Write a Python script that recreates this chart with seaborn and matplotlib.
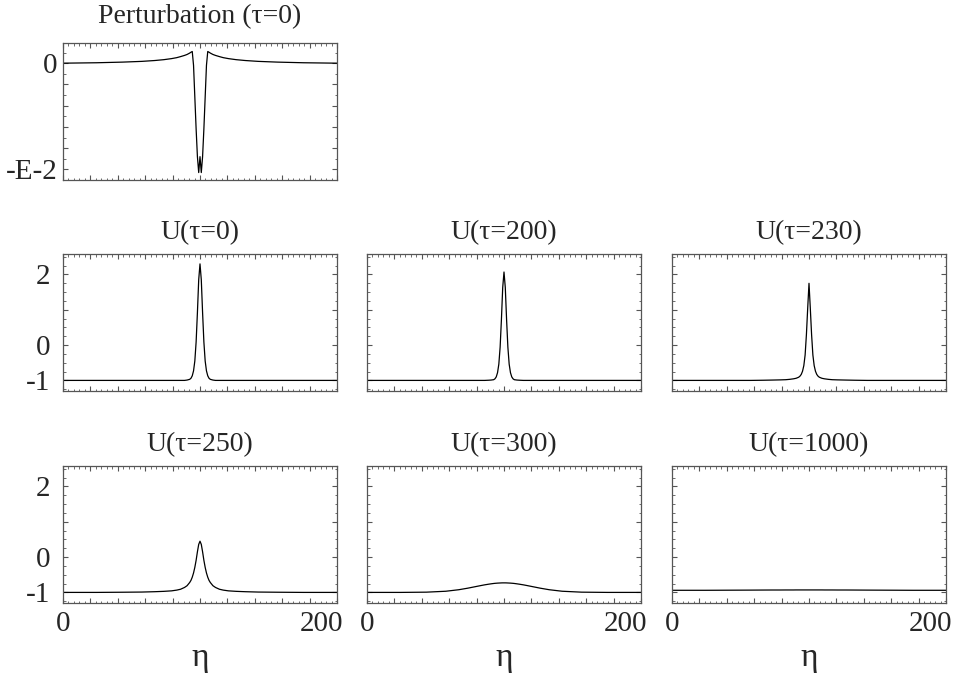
import numpy as np
import matplotlib
matplotlib.use("Agg")
import matplotlib.pyplot as plt
import matplotlib.transforms as mtransforms
from matplotlib.ticker import MultipleLocator, FixedLocator
import seaborn as sns

# eta grid (dense near the centre of the box)
eta = [0, 26, 46, 61, 71, 78, 84, 88, 91, 94, 96, 98, 99, 100, 101, 102, 103, 104, 105,
       106,
       107, 108, 109, 110, 111, 112, 113, 114, 116, 118, 121, 124, 128, 134, 141, 151, 166, 186, 212]

# perturbation at tau=0, in units of 1E-2
pert_e2 = [0.0, 0.004, 0.01, 0.017, 0.025, 0.033, 0.043, 0.052, 0.062, 0.073, 0.082, 0.095, 0.103, 0.11,
           -0.02, -0.32, -0.62, -0.88, -1.03,
           -0.88,
           -1.03, -0.88, -0.62, -0.32, -0.02,
           0.11, 0.103, 0.095, 0.082, 0.073, 0.062, 0.052, 0.043, 0.033, 0.025, 0.017, 0.01, 0.004, 0.0]

u_0 = [-1.0, -1.0, -1.0, -1.0, -1.0, -1.0, -1.0, -1.0, -1.0, -1.0, -0.99, -0.97, -0.94, -0.87,
       -0.73, -0.45, 0.09, 0.92, 1.85,
       2.30,
       1.85, 0.92, 0.09, -0.45, -0.73,
       -0.87, -0.94, -0.97, -0.99, -1.0, -1.0, -1.0, -1.0, -1.0, -1.0, -1.0, -1.0, -1.0, -1.0]

u_200 = [-1.0, -1.0, -1.0, -1.0, -1.0, -1.0, -1.0, -1.0, -1.0, -0.995, -0.99, -0.98, -0.955, -0.90,
         -0.78, -0.54, -0.06, 0.72, 1.63,
         2.07,
         1.63, 0.72, -0.06, -0.54, -0.78,
         -0.90, -0.955, -0.98, -0.99, -0.995, -1.0, -1.0, -1.0, -1.0, -1.0, -1.0, -1.0, -1.0, -1.0]

u_230 = [-1.0, -1.0, -1.0, -1.0, -0.995, -0.99, -0.985, -0.98, -0.97, -0.955, -0.94, -0.91, -0.88, -0.83,
         -0.74, -0.58, -0.28, 0.30, 1.05,
         1.75,
         1.05, 0.30, -0.28, -0.58, -0.74,
         -0.83, -0.88, -0.91, -0.94, -0.955, -0.97, -0.98, -0.985, -0.99, -0.995, -1.0, -1.0, -1.0, -1.0]

u_250 = [-1.0, -1.0, -0.995, -0.99, -0.98, -0.97, -0.956, -0.935, -0.91, -0.86, -0.81, -0.72, -0.66, -0.57,
         -0.45, -0.29, -0.09, 0.15, 0.36,
         0.45,
         0.36, 0.15, -0.09, -0.29, -0.45,
         -0.57, -0.66, -0.72, -0.81, -0.86, -0.91, -0.935, -0.956, -0.97, -0.98, -0.99, -0.995, -1.0, -1.0]

u_300 = [-1.0, -1.0, -0.993, -0.967, -0.924, -0.88, -0.836, -0.807, -0.786, -0.768, -0.757, -0.747, -0.743, -0.74,
         -0.737, -0.735, -0.733, -0.731, -0.73,
         -0.73,
         -0.73, -0.731, -0.733, -0.735, -0.737,
         -0.74, -0.743, -0.747, -0.757, -0.768, -0.786, -0.807, -0.836, -0.88, -0.924, -0.967, -0.993, -1.0, -1.0]

u_1000 = [-0.94, -0.94, -0.937, -0.935, -0.933, -0.932, -0.932, -0.931, -0.931, -0.931, -0.93, -0.93, -0.93, -0.93,
          -0.93, -0.93, -0.93, -0.93, -0.93,
          -0.93,
          -0.93, -0.93, -0.93, -0.93, -0.93,
          -0.93, -0.93, -0.93, -0.93, -0.931, -0.931, -0.931, -0.932, -0.932, -0.933, -0.935, -0.937, -0.94, -0.94]

u_titles = ["U(\u03c4=0)", "U(\u03c4=200)", "U(\u03c4=230)", "U(\u03c4=250)", "U(\u03c4=300)", "U(\u03c4=1000)"]
u_series = [u_0, u_200, u_230, u_250, u_300, u_1000]

ETA_MAX = 212
x_labels = [(0, "0"), (200, "200")]

sns.set_style("ticks")
plt.rcParams["font.family"] = ["Liberation Serif", "DejaVu Serif"]

fig = plt.figure(figsize=(9.6, 6.74), dpi=100)
W, H = 960, 674

def make_ax(left, top, width=274, height=137):
    return fig.add_axes([left / W, 1 - (top + height) / H, width / W, height / H])

def style_ax(ax):
    for s in ax.spines.values():
        s.set_color("#555555")
        s.set_linewidth(0.9)
    ax.set_xlim(0, ETA_MAX)
    ax.xaxis.set_major_locator(FixedLocator(np.linspace(0, ETA_MAX, 11)))
    ax.xaxis.set_minor_locator(FixedLocator(np.linspace(0, ETA_MAX, 51)))
    ax.set_xticklabels([])
    ax.tick_params(which="both", direction="in", top=True, right=True, color="#555555",
                   labelsize=21, pad=9)
    ax.tick_params(which="major", length=3.5, width=0.8)
    ax.tick_params(which="minor", length=1.8, width=0.6)
    ax.set_xlabel("")
    ax.set_ylabel("")

def add_eta_labels(ax):
    tr = mtransforms.offset_copy(ax.get_xaxis_transform(), fig=fig, y=-6, units="points")
    for xv, lab in x_labels:
        ax.text(xv, 0, lab, transform=tr, ha="center", va="top", fontsize=21)
    ax.text(0.5, -0.29, "\u03b7", transform=ax.transAxes, ha="center", va="top", fontsize=24)

# perturbation panel
ax = make_ax(63, 43)
sns.lineplot(x=eta, y=pert_e2, ax=ax, color="black", linewidth=0.9)
style_ax(ax)
ax.set_ylim(-1.1, 0.19)
ax.set_yticks([-1.0, -0.8, -0.6, -0.4, -0.2, 0.0])
ax.set_yticklabels(["-E-2", "", "", "", "", "0"])
ax.yaxis.set_minor_locator(MultipleLocator(0.1))
ax.tick_params(axis="y", pad=4)
ax.get_yticklabels()[-1].set_x(0)
ax.set_title("Perturbation (\u03c4=0)", fontsize=20, pad=14)

lefts = [63, 367, 672]
tops = [254, 466]
for i, (title, vals) in enumerate(zip(u_titles, u_series)):
    r, c = divmod(i, 3)
    ax = make_ax(lefts[c], tops[r])
    sns.lineplot(x=eta, y=vals, ax=ax, color="black", linewidth=0.9)
    style_ax(ax)
    ax.set_ylim(-1.3, 2.58)
    ax.set_yticks([-1, 0, 1, 2])
    if c == 0:
        ax.set_yticklabels(["-1", "0", "", "2"])
    else:
        ax.set_yticklabels([])
    ax.yaxis.set_minor_locator(MultipleLocator(0.25))
    ax.set_title(title, fontsize=20, pad=11)
    if r == 1:
        add_eta_labels(ax)

fig.savefig("out.png", dpi=100, facecolor="white")
